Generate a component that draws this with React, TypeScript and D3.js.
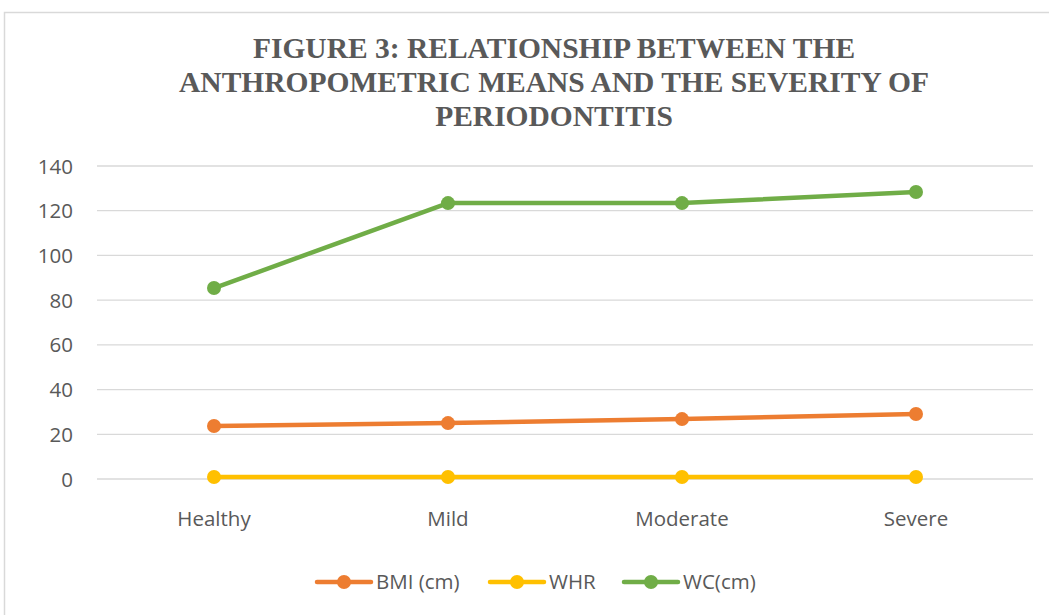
import React from "react";
import * as d3 from "d3";

const categories = ["Healthy", "Mild", "Moderate", "Severe"];
const bmiValues = [23.7, 25.0, 26.8, 29.1];
const whrValues = [0.9, 0.9, 0.9, 0.9];
const wcValues = [85.4, 123.4, 123.4, 128.4];
const yTicks = [0, 20, 40, 60, 80, 100, 120, 140];
const titleLines = [
  "FIGURE 3: RELATIONSHIP BETWEEN THE",
  "ANTHROPOMETRIC MEANS AND THE SEVERITY OF",
  "PERIODONTITIS",
];
const seriesNames = ["BMI (cm)", "WHR", "WC(cm)"];
const seriesColors = ["#ED7D31", "#FFC000", "#70AD47"];

export default function App() {
  const W = 1049;
  const H = 615;
  const x = d3.scaleBand<string>().domain(categories).range([97, 1033]);
  const y = d3.scaleLinear().domain([0, 140]).range([479, 166]);
  const series = [bmiValues, whrValues, wcValues];
  const line = d3
    .line<number>()
    .x((_, i) => (x(categories[i]) as number) + x.bandwidth() / 2)
    .y((d) => y(d));
  const legendX = [317, 490, 624];
  const textColor = "#595959";
  const labelFont = "'Open Sans', 'Noto Sans', sans-serif";
  const fs = 20.5;
  return (
    <svg
      width={W}
      height={H}
      style={{ position: "absolute", left: 0, top: 0 }}
    >
      <rect x={0} y={0} width={W} height={H} fill="#fff" />
      <rect
        x={4.5}
        y={12.5}
        width={W + 10}
        height={H + 10}
        fill="#fff"
        stroke="#d9d9d9"
        strokeWidth={1.5}
      />
      {titleLines.map((t, i) => (
        <text
          key={i}
          x={554}
          y={58 + i * 34}
          textAnchor="middle"
          fontFamily="'Liberation Serif', 'Times New Roman', serif"
          fontWeight="bold"
          fontSize={29.5}
          fill={textColor}
        >
          {t}
        </text>
      ))}
      {yTicks.map((t) => (
        <g key={t}>
          <line
            x1={97}
            x2={1033}
            y1={y(t)}
            y2={y(t)}
            stroke="#d9d9d9"
            strokeWidth={1.3}
          />
          <text
            x={73}
            y={y(t) + 7.5}
            textAnchor="end"
            fontFamily={labelFont}
            fontSize={fs}
            fill={textColor}
          >
            {t}
          </text>
        </g>
      ))}
      {categories.map((c) => (
        <text
          key={c}
          x={(x(c) as number) + x.bandwidth() / 2}
          y={526}
          textAnchor="middle"
          fontFamily={labelFont}
          fontSize={fs}
          fill={textColor}
        >
          {c}
        </text>
      ))}
      {series.map((vals, si) => (
        <g key={si}>
          <path
            d={line(vals) as string}
            fill="none"
            stroke={seriesColors[si]}
            strokeWidth={4.5}
            strokeLinejoin="round"
            strokeLinecap="round"
          />
          {vals.map((v, i) => (
            <circle
              key={i}
              cx={(x(categories[i]) as number) + x.bandwidth() / 2}
              cy={y(v)}
              r={7}
              fill={seriesColors[si]}
            />
          ))}
        </g>
      ))}
      {seriesNames.map((n, i) => (
        <g key={n}>
          <line
            x1={legendX[i]}
            x2={legendX[i] + 54}
            y1={582}
            y2={582}
            stroke={seriesColors[i]}
            strokeWidth={4.5}
            strokeLinecap="round"
          />
          <circle cx={legendX[i] + 27} cy={582} r={7} fill={seriesColors[i]} />
          <text
            x={legendX[i] + 59}
            y={589}
            fontFamily={labelFont}
            fontSize={fs}
            fill={textColor}
          >
            {n}
          </text>
        </g>
      ))}
    </svg>
  );
}
